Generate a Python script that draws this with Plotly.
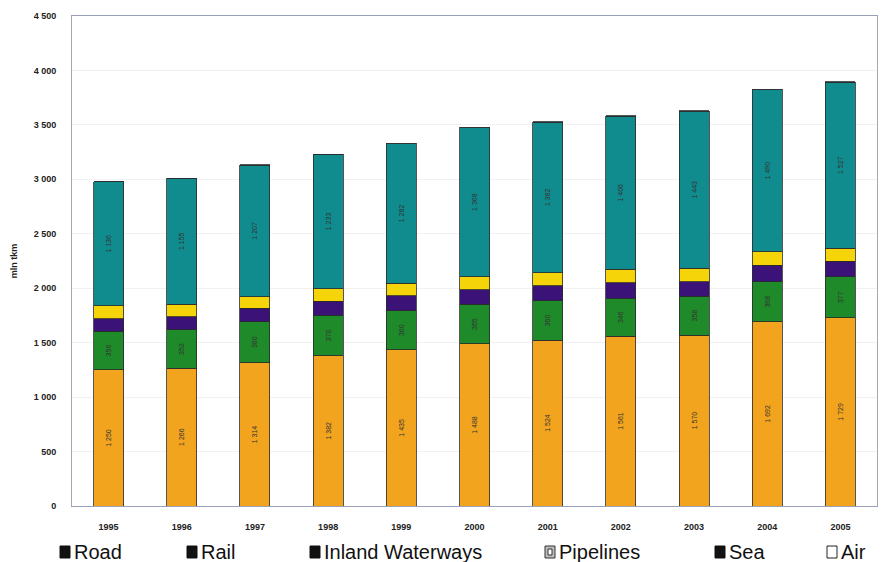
import plotly.graph_objects as go

# Freight transport performance by mode, mln tkm
years = ["1995", "1996", "1997", "1998", "1999", "2000", "2001", "2002", "2003", "2004", "2005"]
road = [1250, 1266, 1314, 1382, 1435, 1488, 1524, 1561, 1570, 1692, 1729]
rail = [356, 352, 380, 370, 360, 365, 360, 346, 358, 368, 377]
inland_waterways = [112, 122, 123, 128, 137, 132, 137, 144, 132, 153, 144]
pipelines = [122, 114, 106, 117, 114, 122, 123, 123, 123, 122, 116]
sea = [1136, 1155, 1207, 1233, 1282, 1368, 1382, 1406, 1443, 1490, 1527]
air = [2, 2, 2, 2, 3, 3, 3, 3, 3, 4, 4]

y_ticks = [0, 500, 1000, 1500, 2000, 2500, 3000, 3500, 4000, 4500]


def fmt(v):
    return f"{v:,}".replace(",", " ")


series = [
    ("Road", road, "#F2A41F", True),
    ("Rail", rail, "#1F8A2A", True),
    ("Inland Waterways", inland_waterways, "#3B1278", False),
    ("Pipelines", pipelines, "#F6D40A", False),
    ("Sea", sea, "#108C8E", True),
    ("Air", air, "#FFFFFF", False),
]

fig = go.Figure()
for name, vals, color, labelled in series:
    fig.add_trace(go.Bar(
        name=name,
        x=years,
        y=vals,
        marker=dict(color=color, line=dict(color="#2b2b2b", width=0.8)),
        text=[fmt(v) for v in vals] if labelled else None,
        textposition="inside" if labelled else "none",
        textangle=-90,
        insidetextanchor="middle",
        textfont=dict(family="Arial", size=7, color="#333333"),
        constraintext="none",
        hoverinfo="x+y+name",
        showlegend=False,
    ))

fig.update_layout(
    barmode="stack",
    bargap=0.59,
    width=885,
    height=562,
    margin=dict(l=72, r=8, t=16, b=56),
    paper_bgcolor="white",
    plot_bgcolor="white",
    font=dict(family="Arial", color="#222222"),
)

fig.update_xaxes(
    type="category",
    showline=True,
    linecolor="#9aa0b8",
    linewidth=1,
    mirror=True,
    tickfont=dict(family="Arial", size=9, color="#222222", weight="bold"),
    ticks="",
    ticklabelstandoff=12,
)

fig.update_yaxes(
    range=[0, 4500],
    tickvals=y_ticks,
    ticktext=[fmt(v) for v in y_ticks],
    tickfont=dict(family="Arial", size=9, color="#222222", weight="bold"),
    showgrid=True,
    gridcolor="#f1f1f1",
    gridwidth=1,
    showline=True,
    linecolor="#a8a8a8",
    linewidth=1,
    mirror=True,
    zeroline=False,
    ticks="",
    ticklabelstandoff=13,
    title=dict(text="mln tkm", font=dict(family="Arial", size=9, color="#222222", weight="bold"), standoff=14),
)

# Legend row beneath the axis: a key box followed by the mode name
plot_left, plot_width = 72, 805
plot_bottom, plot_height = 506, 490


def px_x(px):
    return (px - plot_left) / plot_width


def px_y(py):
    return (plot_bottom - py) / plot_height


legend_items = [
    ("Road", 60, "solid"),
    ("Rail", 187, "solid"),
    ("Inland Waterways", 310, "solid"),
    ("Pipelines", 545, "hatched"),
    ("Sea", 715, "solid"),
    ("Air", 827, "open"),
]
key_top, key_bottom = 546, 558
for label, px, style in legend_items:
    if style == "solid":
        fill, edge = "#111111", "#111111"
    elif style == "hatched":
        fill, edge = "#bdbdbd", "#333333"
    else:
        fill, edge = "#ffffff", "#222222"
    fig.add_shape(
        type="rect", xref="paper", yref="paper",
        x0=px_x(px), x1=px_x(px + 10), y0=px_y(key_bottom), y1=px_y(key_top),
        fillcolor=fill, line=dict(color=edge, width=1),
    )
    if style == "hatched":
        fig.add_shape(
            type="rect", xref="paper", yref="paper",
            x0=px_x(px + 3), x1=px_x(px + 7), y0=px_y(key_bottom - 3), y1=px_y(key_top + 3),
            fillcolor="#ffffff", line=dict(color="#333333", width=1),
        )
    fig.add_annotation(
        text=label,
        xref="paper",
        yref="paper",
        x=px_x(px + 12),
        y=px_y(552),
        xanchor="left",
        yanchor="middle",
        showarrow=False,
        font=dict(family="Liberation Sans Narrow, Arial", size=20, color="#111111"),
    )

fig.write_html("out.html")
